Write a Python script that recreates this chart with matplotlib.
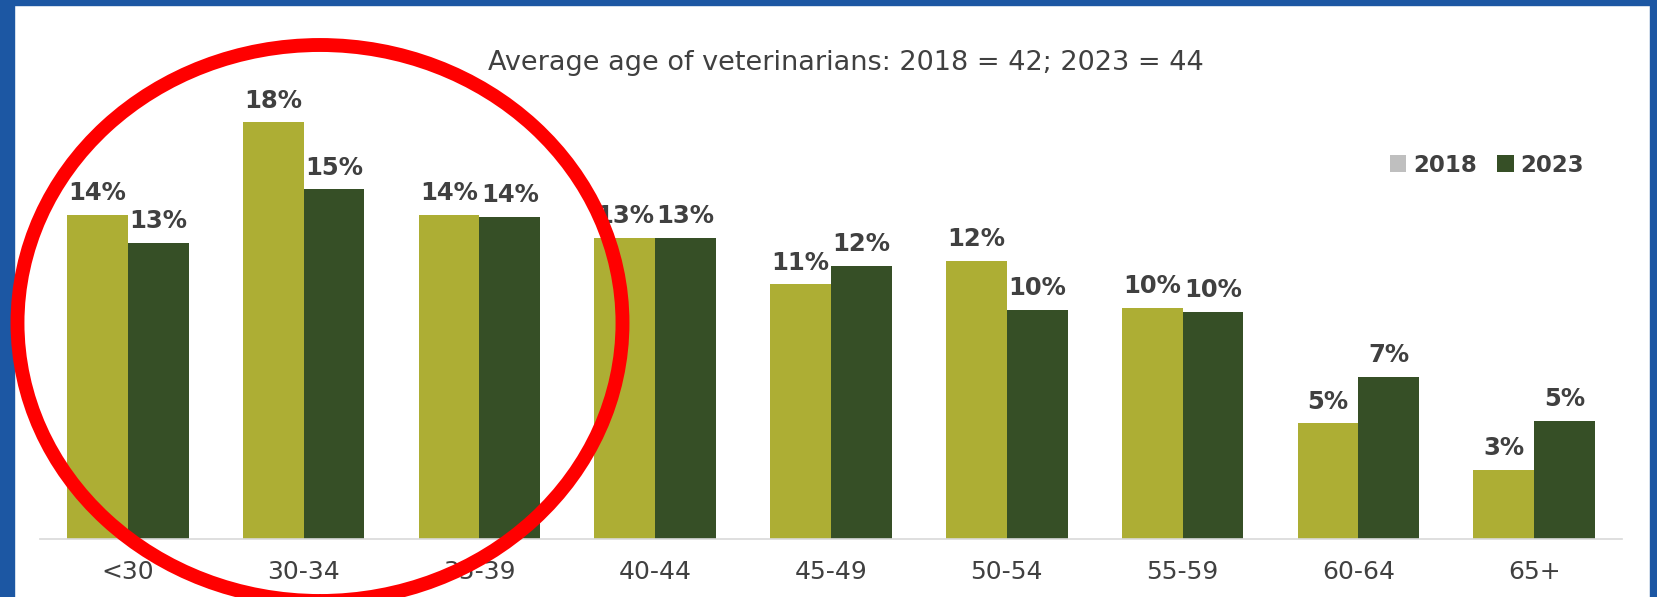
import matplotlib
matplotlib.use("Agg")
import matplotlib.pyplot as plt
import numpy as np
from matplotlib.patches import Ellipse, Rectangle, Patch

# data (bar heights in %)
ages = ["<30", "30-34", "35-39", "40-44", "45-49", "50-54", "55-59", "60-64", "65+"]
y2018 = [14.0, 18.0, 14.0, 13.0, 11.0, 12.0, 10.0, 5.0, 3.0]
y2023 = [12.8, 15.1, 13.9, 13.0, 11.8, 9.9, 9.8, 7.0, 5.1]
title = "Average age of veterinarians: 2018 = 42; 2023 = 44"

c2018 = "#ADAE34"
c2023 = "#364F26"
txt = "#404040"

W, H = 1657, 597
fig = plt.figure(figsize=(W / 100, H / 100), dpi=100)
fig.patch.set_facecolor("white")

# axes placed in pixel terms
left, right, top, base = 40, 1622, 76, 539
ax = fig.add_axes([left / W, (H - base) / H, (right - left) / W, (base - top) / H])

x = np.arange(len(ages))
bw = 0.346
b1 = ax.bar(x - bw / 2, y2018, width=bw, color=c2018, linewidth=0, zorder=2)
b2 = ax.bar(x + bw / 2, y2023, width=bw, color=c2023, linewidth=0, zorder=2)

for bars in (b1, b2):
    ax.bar_label(bars, labels=["%.0f%%" % b.get_height() for b in bars], padding=7,
                 fontsize=17.5, fontweight="bold", color=txt, family="DejaVu Sans")

ax.set_xlim(-0.5, len(ages) - 0.5)
ax.set_ylim(0, 20)
ax.set_xticks(x)
ax.set_xticklabels(ages, fontsize=18, color=txt)
ax.tick_params(axis="x", length=0, pad=15)
ax.set_yticks([])
for s in ["top", "right", "left"]:
    ax.spines[s].set_visible(False)
ax.spines["bottom"].set_color("#D9D9D9")
ax.spines["bottom"].set_linewidth(1.2)

fig.text(846 / W, 1 - 63 / H, title, ha="center", va="center", fontsize=19.5, color=txt)

handles = [Patch(facecolor="#BFBFBF"), Patch(facecolor=c2023)]
leg = fig.legend(handles, ["2018", "2023"], loc="center right",
                 bbox_to_anchor=(1584 / W, 1 - 165 / H), bbox_transform=fig.transFigure,
                 ncol=2, frameon=False, borderpad=0, borderaxespad=0,
                 handlelength=0.7, handleheight=0.7, handletextpad=0.3, columnspacing=0.9,
                 prop={"size": 16.5, "weight": "bold"})
for t in leg.get_texts():
    t.set_color(txt)

# blue frame
blue = "#1C57A3"
fig.add_artist(Rectangle((0, 0), 14 / W, 1, transform=fig.transFigure, color=blue, zorder=5))
fig.add_artist(Rectangle((0, 1 - 5 / H), 1, 5 / H, transform=fig.transFigure, color=blue, zorder=5))
fig.add_artist(Rectangle((1 - 7 / W, 0), 7 / W, 1, transform=fig.transFigure, color=blue, zorder=5))

# red circle drawn over the first groups
fig.add_artist(Ellipse((320 / W, 1 - 323 / H), 605 / W, 556 / H, transform=fig.transFigure,
                       fill=False, edgecolor="#FF0000", linewidth=10, zorder=6))

fig.savefig("out.png", dpi=100)
